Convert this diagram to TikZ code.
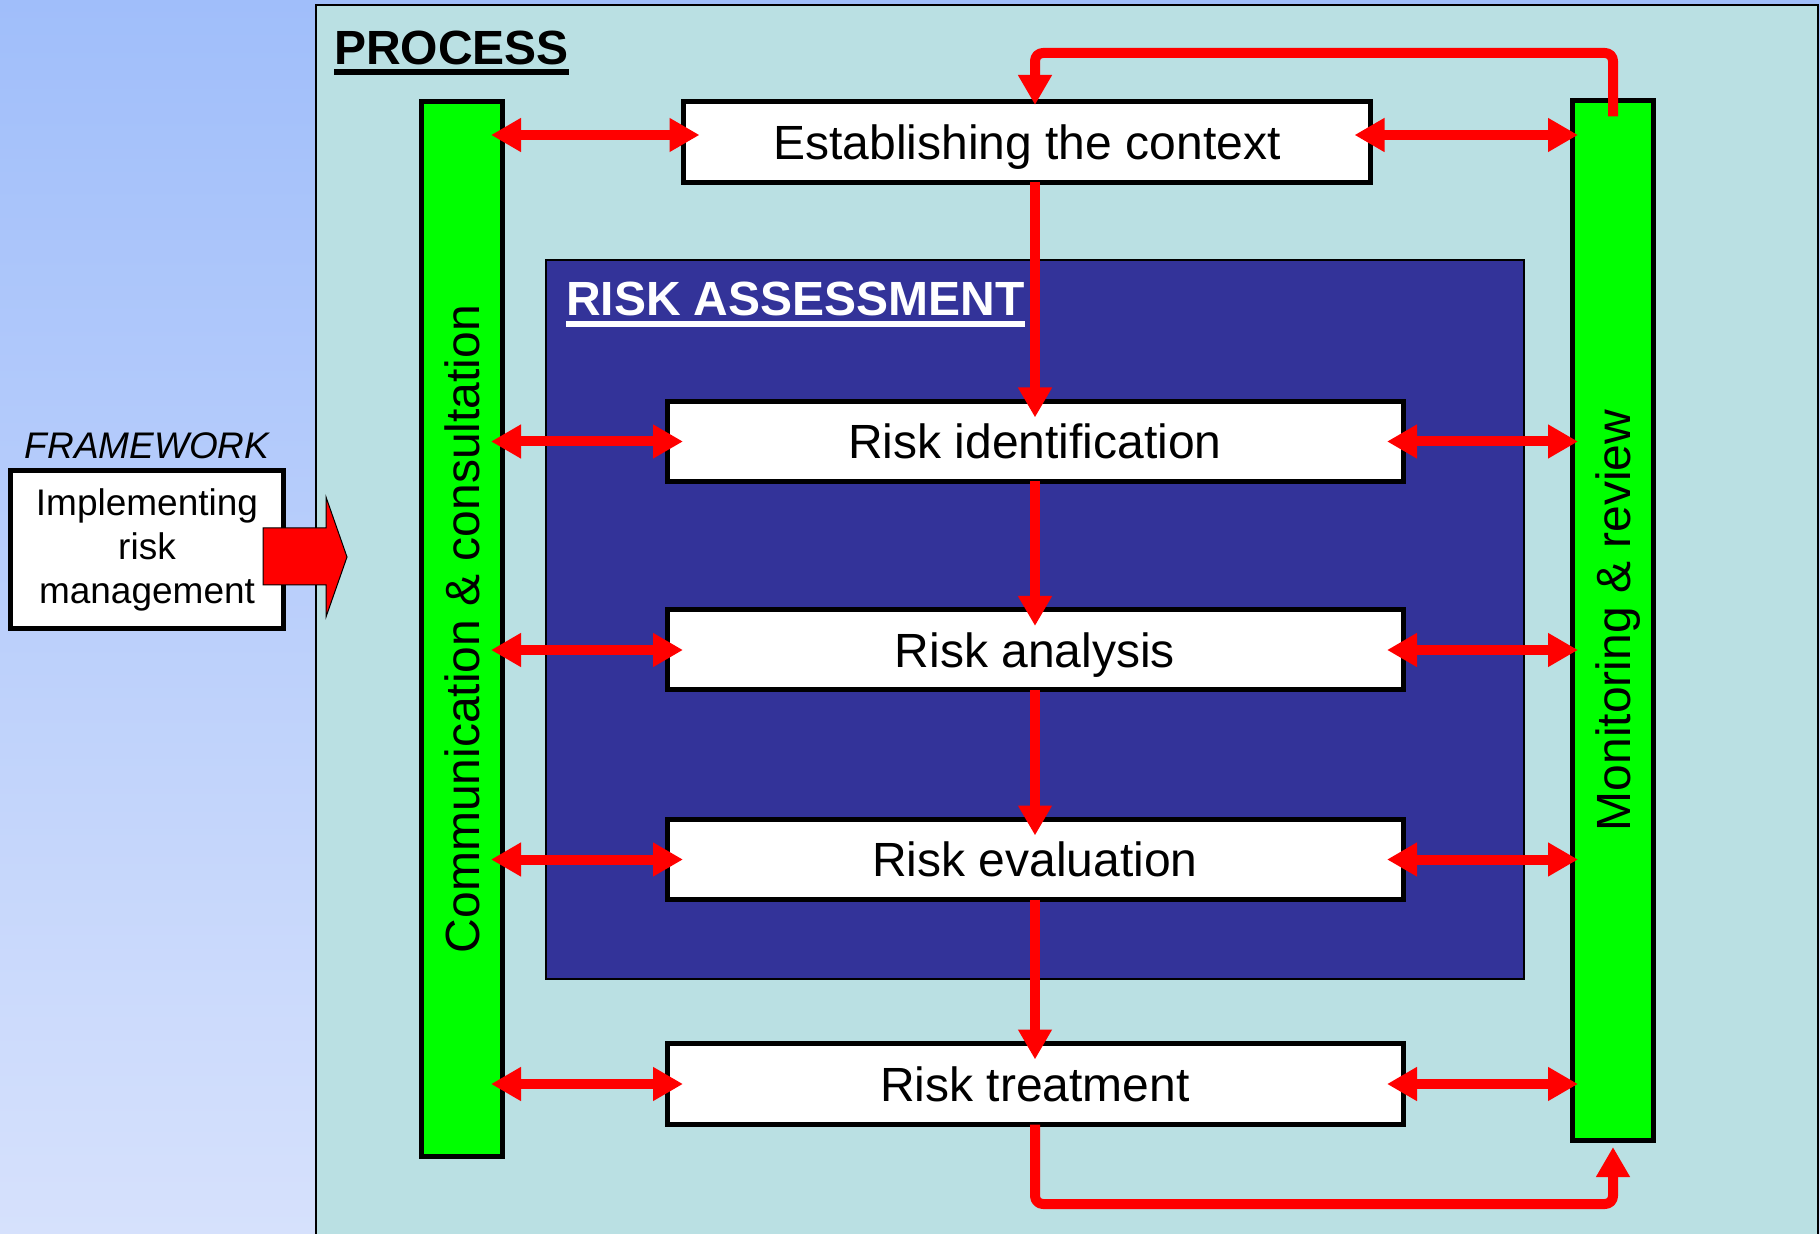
\documentclass[tikz,border=0pt]{standalone}
\usepackage{fontspec}
\setmainfont{Liberation Sans}
\usetikzlibrary{arrows.meta,calc}
\definecolor{bgtop}{RGB}{160,190,250}
\definecolor{bgbot}{RGB}{214,225,252}
\definecolor{procfill}{RGB}{186,224,227}
\definecolor{rablue}{RGB}{51,51,153}
\definecolor{barGreen}{RGB}{0,255,0}
\definecolor{arrRed}{RGB}{255,0,0}
\newcommand\ulbox[3]{\setbox0\hbox{#1}\rlap{\rule[#2]{\wd0}{#3}}\box0}
\begin{document}
\begin{tikzpicture}[x=0.5pt,y=-0.5pt,
  every node/.style={inner sep=0pt,outer sep=0pt},
  >={Triangle[length=15pt,width=16pt]},
  big/.style={font=\fontsize{24}{28}\selectfont,text height=17.2pt,text depth=0pt},
  wbox/.style={draw=black,line width=2.5pt,fill=white,big,minimum height=40pt},
  gbar/.style={draw=black,line width=2.5pt,fill=barGreen,minimum width=40.5pt},
  dbl/.style={draw=arrRed,line width=5pt,<->},
  varr/.style={draw=arrRed,line width=5pt,->,shorten >=-8pt},
  fb/.style={draw=arrRed,line width=5pt,->,rounded corners=4pt,line join=round},
  cont/.style={draw=black,line width=1pt}]
\shade[top color=bgtop,bottom color=bgbot] (0,0) rectangle (1820,1234);
\useasboundingbox (0,0) rectangle (1820,1234);

% containers
\node[cont,fill=procfill,minimum width=751pt,minimum height=618pt] (process) at (1067,623) {};
\node[anchor=base west,font=\fontsize{24}{28}\selectfont\bfseries] (ptitle) at (334,65) {\ulbox{PROCESS}{-4.9pt}{2.7pt}};
\node[cont,fill=rablue,minimum width=489pt,minimum height=359.5pt] (assess) at (1035,619.5) {};
\node[anchor=base west,text=white,font=\fontsize{24}{28}\selectfont\bfseries] (atitle) at (566,316) {\ulbox{RISK ASSESSMENT}{-5.5pt}{3pt}};

% side bars
\node[gbar,minimum height=527.5pt] (cc) at (462,629) {};
\node[gbar,minimum height=520pt] (mr) at (1613,620.5) {};
\node[big,rotate=90] (cctext) at (cc) {Communication \& consultation};
\node[big,rotate=90] (mrtext) at (mr) {Monitoring \& review};

% process steps
\node[wbox,minimum width=343.5pt,minimum height=40.5pt] (ctx) at (1027,142) {Establishing the context};
\node[wbox,minimum width=368pt] (ri) at (1035,441.5) {Risk identification};
\node[wbox,minimum width=368pt] (ra) at (1035,650) {Risk analysis};
\node[wbox,minimum width=368pt] (re) at (1035,859.5) {Risk evaluation};
\node[wbox,minimum width=368pt,minimum height=40.5pt] (rt) at (1035,1084) {Risk treatment};

% double arrows
\draw[dbl,shorten <=-5.75pt,shorten >=-8pt] ($(cc.east |- ctx.west)+(0,-7)$) -- ($(ctx.west)+(0,-7)$);
\draw[dbl,shorten <=-8pt,shorten >=-2.75pt] ($(ctx.east)+(0,-7)$) -- ($(mr.west |- ctx.east)+(0,-7)$);
\foreach \b in {ri,ra,re,rt}{
  \draw[dbl,shorten <=-5.75pt,shorten >=-8pt] (cc.east |- \b.west) -- (\b.west);
  \draw[dbl,shorten <=-8pt,shorten >=-2.75pt] (\b.east) -- (mr.west |- \b.east);
}

% main flow
\draw[varr] (ctx.south -| ri) -- (ri.north);
\draw[varr] (ri.south) -- (ra.north);
\draw[varr] (ra.south) -- (re.north);
\draw[varr] (re.south) -- (rt.north);

% feedback loops
\coordinate (fbtop) at (1613,53);
\coordinate (fbbot) at (1613,1204);
\draw[fb,shorten >=-1.75pt] ([yshift=-8pt]mr.north) -- (fbtop) -| (ctx.north -| ri);
\draw[fb,shorten >=3.25pt] (rt.south) |- (fbbot) -- (mr.south);

% framework
\node[anchor=base,font=\fontsize{18.5}{22}\selectfont\itshape] (fwtitle) at (147,459) {FRAMEWORK};
\node[draw=black,line width=2.5pt,fill=white,minimum width=136.5pt,minimum height=79pt,align=center,font=\fontsize{18.5}{22}\selectfont] (fw) at (147,549.5) {Implementing\\risk\\management};
\draw[fill=arrRed,draw=black,line width=0.5pt] (263,528) -- (326,528) -- (326,497) -- (347,557) -- (326,617) -- (326,585) -- (263,585) -- cycle;
\end{tikzpicture}
\end{document}
